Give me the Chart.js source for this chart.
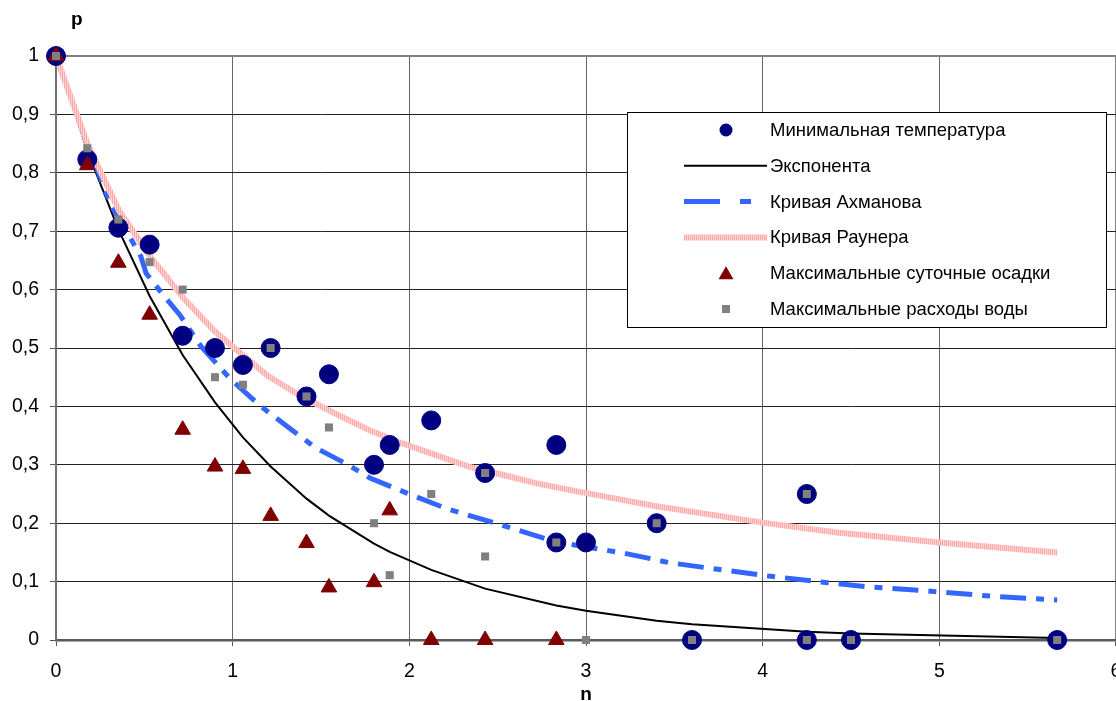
<!DOCTYPE html>
<html>
<head>
<meta charset="utf-8">
<script src="https://cdn.jsdelivr.net/npm/chart.js@4.4.1/dist/chart.umd.min.js"></script>
<style>
  html, body { margin: 0; padding: 0; background: #fff; }
  #wrap { width: 1116px; height: 701px; position: relative; }
</style>
</head>
<body>
<div id="wrap"><canvas id="c" width="1116" height="701"></canvas></div>
<script>
// ---- data ----
const seriesNames = ['Минимальная температура', 'Экспонента', 'Кривая Ахманова', 'Кривая Раунера', 'Максимальные суточные осадки', 'Максимальные расходы воды'];
const xTitle = 'n';
const yTitle = 'p';

const tempX = [0, 0.177, 0.353, 0.53, 0.717, 0.9, 1.058, 1.215, 1.418, 1.545, 1.80, 1.889, 2.124, 2.429, 2.832, 2.832, 3.0, 3.40, 3.60, 4.25, 4.25, 4.50, 5.667];
const tempY = [1, 0.823, 0.706, 0.677, 0.521, 0.5, 0.471, 0.5, 0.417, 0.455, 0.30, 0.334, 0.376, 0.286, 0.334, 0.167, 0.167, 0.2, 0, 0.25, 0, 0, 0];

const expX = [0, 0.177, 0.353, 0.53, 0.717, 0.9, 1.058, 1.215, 1.418, 1.545, 1.80, 1.889, 2.124, 2.429, 2.832, 3.0, 3.40, 3.60, 4.25, 4.50, 5.667];
const expY = [1, 0.838, 0.703, 0.589, 0.488, 0.407, 0.347, 0.297, 0.242, 0.213, 0.165, 0.151, 0.12, 0.088, 0.059, 0.05, 0.033, 0.027, 0.014, 0.011, 0.0035];

const akhX = [0, 0.177, 0.31, 0.405, 0.48, 0.51, 0.62, 0.70, 0.82, 0.99, 1.16, 1.32, 1.47, 1.635, 1.78, 1.99, 2.22, 2.52, 2.83, 3.21, 3.48, 3.70, 4.02, 4.37, 4.60, 4.93, 5.30, 5.667];
const akhY = [1, 0.85, 0.745, 0.697, 0.657, 0.628, 0.586, 0.557, 0.503, 0.446, 0.40, 0.363, 0.329, 0.303, 0.277, 0.251, 0.224, 0.197, 0.168, 0.149, 0.132, 0.123, 0.11, 0.098, 0.091, 0.084, 0.075, 0.0686];

const raunX = [0, 0.177, 0.357, 0.537, 0.722, 0.9, 1.01, 1.2, 1.389, 1.578, 1.768, 1.957, 2.147, 2.336, 2.526, 2.715, 2.905, 3.207, 3.38, 4.0, 4.42, 5.0, 5.667];
const raunY = [1, 0.85, 0.735, 0.655, 0.585, 0.528, 0.5, 0.452, 0.417, 0.388, 0.36, 0.337, 0.317, 0.297, 0.283, 0.2685, 0.257, 0.24, 0.23, 0.201, 0.184, 0.167, 0.15];

const rainX = [0, 0.177, 0.353, 0.53, 0.717, 0.9, 1.058, 1.215, 1.418, 1.545, 1.80, 1.889, 2.124, 2.429, 2.832];
const rainY = [1, 0.813, 0.646, 0.557, 0.36, 0.297, 0.293, 0.2125, 0.166, 0.09, 0.099, 0.222, 0, 0, 0];

const flowX = [0, 0.177, 0.353, 0.53, 0.717, 0.9, 1.058, 1.215, 1.418, 1.545, 1.80, 1.889, 2.124, 2.429, 2.429, 2.832, 3.0, 3.40, 3.60, 4.25, 4.25, 4.50, 5.667];
const flowY = [1, 0.842, 0.72, 0.647, 0.6, 0.45, 0.437, 0.5, 0.417, 0.364, 0.2, 0.111, 0.25, 0.286, 0.143, 0.167, 0, 0.2, 0, 0.25, 0, 0, 0];

const xTicks = [0, 1, 2, 3, 4, 5, 6];
const yTicks = [0, 0.1, 0.2, 0.3, 0.4, 0.5, 0.6, 0.7, 0.8, 0.9, 1];

// ---- helpers ----
const pts = (xs, ys) => xs.map((x, i) => ({ x: x, y: ys[i] }));
const FONT = '"Liberation Sans", Arial, sans-serif';

// striped pink pattern (texture of the Rauner curve)
function pinkPattern() {
  const pc = document.createElement('canvas');
  pc.width = 2; pc.height = 2;
  const g = pc.getContext('2d');
  g.fillStyle = '#ffa8a8'; g.fillRect(0, 0, 1, 2);
  g.fillStyle = '#ffd4d4'; g.fillRect(1, 0, 1, 2);
  return g.createPattern(pc, 'repeat');
}
const PINK = pinkPattern();

const datasets = [
  { label: seriesNames[0], data: pts(tempX, tempY), showLine: false, pointStyle: 'circle', pointRadius: 9.5,
    backgroundColor: '#000080', borderColor: '#000080', borderWidth: 1, order: 2, clip: false },
  { label: seriesNames[1], data: pts(expX, expY), showLine: true, pointRadius: 0, borderColor: '#000000',
    borderWidth: 2, fill: false, tension: 0, order: 5 },
  { label: seriesNames[2], data: pts(akhX, akhY), showLine: true, pointRadius: 0, borderColor: '#3366ff',
    borderWidth: 5, borderDash: [26, 10, 8, 10], fill: false, tension: 0, order: 4 },
  { label: seriesNames[3], data: pts(raunX, raunY), showLine: true, pointRadius: 0, borderColor: PINK,
    borderWidth: 6, fill: false, tension: 0, order: 3 },
  { label: seriesNames[4], data: pts(rainX, rainY), showLine: false, pointStyle: 'triangle', pointRadius: 9,
    backgroundColor: '#800000', borderColor: '#800000', borderWidth: 1, order: 1, clip: false },
  { label: seriesNames[5], data: pts(flowX, flowY), showLine: false, pointStyle: 'rect', pointRadius: 5.7,
    backgroundColor: '#808080', borderColor: '#808080', borderWidth: 0, order: 0, clip: false }
];

const legendStyles = [
  { kind: 'circle', color: '#000080' },
  { kind: 'line', color: '#000000', width: 2, dash: [] },
  { kind: 'line', color: '#3366ff', width: 5, dash: [36, 20, 11, 20] },
  { kind: 'line', color: PINK, width: 6, dash: [] },
  { kind: 'triangle', color: '#800000' },
  { kind: 'rect', color: '#808080' }
];

const boxLegend = {
  id: 'boxLegend',
  afterDraw(chart) {
    const ctx = chart.ctx;
    ctx.save();
    // axis titles
    ctx.fillStyle = '#000';
    ctx.font = 'bold 19px ' + FONT;
    ctx.textAlign = 'left';
    ctx.textBaseline = 'alphabetic';
    ctx.fillText(yTitle, 71, 25);
    ctx.textAlign = 'center';
    ctx.fillText(xTitle, 586, 700);

    // legend box
    const bx = 627.5, by = 112.5, bw = 479, bh = 215;
    ctx.fillStyle = '#ffffff';
    ctx.fillRect(bx, by, bw, bh);
    ctx.strokeStyle = '#000';
    ctx.lineWidth = 1;
    ctx.strokeRect(bx, by, bw, bh);

    ctx.font = '18.5px ' + FONT;
    ctx.textAlign = 'left';
    ctx.textBaseline = 'middle';
    chart.data.datasets.forEach((ds, i) => {
      const y = 130 + i * 35.8;
      const st = legendStyles[i];
      const cx = 726;
      if (st.kind === 'line') {
        ctx.save();
        ctx.strokeStyle = st.color;
        ctx.lineWidth = st.width;
        ctx.setLineDash(st.dash);
        ctx.beginPath();
        ctx.moveTo(684, y);
        ctx.lineTo(767, y);
        ctx.stroke();
        ctx.restore();
      } else if (st.kind === 'circle') {
        ctx.fillStyle = st.color;
        ctx.beginPath();
        ctx.arc(cx, y, 6.5, 0, Math.PI * 2);
        ctx.fill();
      } else if (st.kind === 'triangle') {
        ctx.fillStyle = st.color;
        ctx.beginPath();
        ctx.moveTo(cx, y - 7);
        ctx.lineTo(cx + 7.5, y + 6);
        ctx.lineTo(cx - 7.5, y + 6);
        ctx.closePath();
        ctx.fill();
      } else {
        ctx.fillStyle = st.color;
        ctx.fillRect(cx - 4, y - 4, 8, 8);
      }
      ctx.fillStyle = '#000';
      ctx.fillText(ds.label, 770, y + 1);
    });
    ctx.restore();
  }
};

const fmtY = v => {
  if (Math.abs(v) < 1e-9) return '0';
  if (Math.abs(v - 1) < 1e-9) return '1';
  return v.toFixed(1).replace('.', ',');
};

new Chart(document.getElementById('c'), {
  type: 'scatter',
  data: { datasets: datasets },
  options: {
    responsive: false,
    animation: false,
    devicePixelRatio: 1,
    layout: { autoPadding: false, padding: { top: 56, right: 0, left: 0, bottom: 0 } },
    plugins: { legend: { display: false }, tooltip: { enabled: false }, title: { display: false } },
    scales: {
      x: {
        type: 'linear', min: 0, max: 6,
        afterBuildTicks: s => { s.ticks = xTicks.map(v => ({ value: v })); },
        afterFit: s => { s.height = 61; s.paddingRight = 0; s.paddingLeft = 0; },
        ticks: { color: '#000', font: { family: FONT, size: 19.5 }, padding: 14, maxRotation: 0,
                 callback: v => String(v) },
        grid: {
          color: c => (c.tick && c.tick.value === 6) ? '#808080' : '#666666',
          lineWidth: c => (c.tick && c.tick.value === 6) ? 2 : 1,
          tickLength: 6, tickColor: '#555555', drawTicks: true
        },
        border: { display: true, color: '#5a5a5a', width: 2.5 }
      },
      y: {
        type: 'linear', min: 0, max: 1,
        afterBuildTicks: s => { s.ticks = yTicks.map(v => ({ value: v })); },
        afterFit: s => { s.width = 56; },
        ticks: { color: '#000', font: { family: FONT, size: 19.5 }, padding: 11, callback: v => fmtY(v) },
        grid: {
          color: c => (c.tick && c.tick.value === 1) ? '#808080' : '#222222',
          lineWidth: c => (c.tick && c.tick.value === 1) ? 2 : 1,
          tickLength: 6, tickColor: '#555555', drawTicks: true
        },
        border: { display: true, color: '#707070', width: 2 }
      }
    }
  },
  plugins: [boxLegend]
});
</script>
</body>
</html>
